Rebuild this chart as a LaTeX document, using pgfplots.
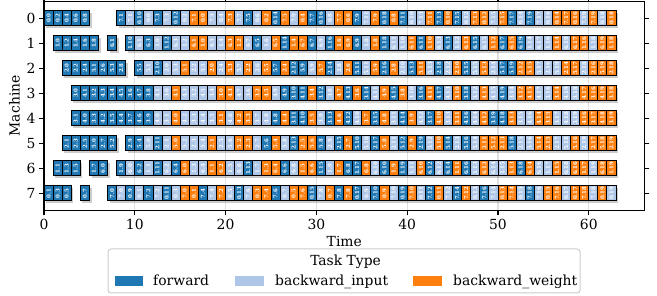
\documentclass[border=0pt]{standalone}
\usepackage{fontspec}
\setmainfont{DejaVu Serif}
\usepackage{pgfplots}
\usepackage{pgfplotstable}
\pgfplotsset{compat=1.18}
\definecolor{cF}{HTML}{1F77B4}
\definecolor{cB}{HTML}{AEC7E8}
\definecolor{cW}{HTML}{FF7F0E}
\newcommand{\fs}{\fontsize{13.9}{16}\selectfont}
\pgfdeclareplotmark{cell}{\pgfpathrectangle{\pgfpoint{-4.54pt}{-7.5pt}}{\pgfpoint{9.08pt}{15pt}}\pgfusepathqfillstroke}
\pgfdeclareplotmark{cellshadow}{\pgfpathrectangle{\pgfpoint{-2.4pt}{-9.6pt}}{\pgfpoint{9.08pt}{15pt}}\pgfusepathqfill}

% forward tasks: x = slot centre, y = machine, l = label
\pgfplotstableread[row sep=\\]{x y l\\
0.5 0 0.0\\ 1.5 0 0.2\\ 2.5 0 0.4\\ 3.5 0 0.6\\ 4.5 0 0.8\\ 8.5 0 7.1\\ 10.5 0 0.10\\ 12.5 0 7.3\\ 14.5 0 0.12\\ 22.5 0 7.5\\ 25.5 0 0.14\\ 29.5 0 7.7\\ 30.5 0 0.16\\ 34.5 0 7.9\\ 37.5 0 0.18\\ 39.5 0 7.11\\ 43.5 0 7.13\\ 45.5 0 7.15\\ 51.5 0 7.17\\ 53.5 0 7.19\\
1.5 1 1.0\\ 2.5 1 1.2\\ 3.5 1 1.4\\ 4.5 1 1.6\\ 5.5 1 1.8\\ 7.5 1 6.1\\ 9.5 1 1.10\\ 11.5 1 6.3\\ 13.5 1 1.12\\ 23.5 1 6.5\\ 26.5 1 1.14\\ 29.5 1 6.7\\ 31.5 1 1.16\\ 34.5 1 6.9\\ 37.5 1 1.18\\ 41.5 1 6.11\\ 44.5 1 6.13\\ 47.5 1 6.15\\ 50.5 1 6.17\\ 52.5 1 6.19\\
2.5 2 2.0\\ 3.5 2 2.2\\ 4.5 2 2.4\\ 5.5 2 5.1\\ 6.5 2 2.6\\ 7.5 2 5.3\\ 8.5 2 2.8\\ 10.5 2 5.5\\ 12.5 2 2.10\\ 25.5 2 5.7\\ 27.5 2 2.12\\ 28.5 2 5.9\\ 31.5 2 2.14\\ 34.5 2 5.11\\ 37.5 2 2.16\\ 40.5 2 5.13\\ 43.5 2 2.18\\ 46.5 2 5.15\\ 50.5 2 5.17\\ 51.5 2 5.19\\
3.5 3 3.0\\ 4.5 3 4.1\\ 5.5 3 3.2\\ 6.5 3 4.3\\ 7.5 3 3.4\\ 8.5 3 4.5\\ 9.5 3 3.6\\ 10.5 3 4.7\\ 11.5 3 3.8\\ 26.5 3 4.9\\ 27.5 3 3.10\\ 28.5 3 4.11\\ 30.5 3 3.12\\ 33.5 3 4.13\\ 35.5 3 3.14\\ 38.5 3 4.15\\ 41.5 3 3.16\\ 43.5 3 4.17\\ 46.5 3 3.18\\ 50.5 3 4.19\\
3.5 4 3.1\\ 4.5 4 4.0\\ 5.5 4 3.3\\ 6.5 4 4.2\\ 7.5 4 3.5\\ 8.5 4 4.4\\ 9.5 4 3.7\\ 10.5 4 4.6\\ 11.5 4 3.9\\ 25.5 4 4.8\\ 27.5 4 3.11\\ 28.5 4 4.10\\ 31.5 4 3.13\\ 33.5 4 4.12\\ 36.5 4 3.15\\ 39.5 4 4.14\\ 42.5 4 3.17\\ 46.5 4 4.16\\ 49.5 4 3.19\\ 50.5 4 4.18\\
2.5 5 2.1\\ 3.5 5 2.3\\ 4.5 5 2.5\\ 5.5 5 5.0\\ 6.5 5 2.7\\ 7.5 5 5.2\\ 9.5 5 2.9\\ 10.5 5 5.4\\ 12.5 5 2.11\\ 24.5 5 5.6\\ 27.5 5 2.13\\ 30.5 5 5.8\\ 32.5 5 2.15\\ 34.5 5 5.10\\ 36.5 5 2.17\\ 39.5 5 5.12\\ 41.5 5 2.19\\ 44.5 5 5.14\\ 46.5 5 5.16\\ 51.5 5 5.18\\
1.5 6 1.1\\ 2.5 6 1.3\\ 3.5 6 1.5\\ 5.5 6 1.7\\ 6.5 6 6.0\\ 8.5 6 1.9\\ 10.5 6 6.2\\ 12.5 6 1.11\\ 14.5 6 6.4\\ 22.5 6 1.13\\ 26.5 6 6.6\\ 30.5 6 1.15\\ 33.5 6 6.8\\ 34.5 6 1.17\\ 37.5 6 6.10\\ 39.5 6 1.19\\ 42.5 6 6.12\\ 44.5 6 6.14\\ 46.5 6 6.16\\ 52.5 6 6.18\\
0.5 7 0.1\\ 1.5 7 0.3\\ 2.5 7 0.5\\ 4.5 7 0.7\\ 7.5 7 7.0\\ 9.5 7 0.9\\ 11.5 7 7.2\\ 13.5 7 0.11\\ 17.5 7 7.4\\ 21.5 7 0.13\\ 25.5 7 7.6\\ 29.5 7 0.15\\ 32.5 7 7.8\\ 34.5 7 0.17\\ 36.5 7 7.10\\ 39.5 7 0.19\\ 42.5 7 7.12\\ 45.5 7 7.14\\ 48.5 7 7.16\\ 53.5 7 7.18\\
}\Ftab

% backward_input tasks
\pgfplotstableread[row sep=\\]{x y l\\
9.5 0 7.1\\ 11.5 0 0.0\\ 13.5 0 7.3\\ 15.5 0 0.2\\ 18.5 0 7.5\\ 19.5 0 0.4\\ 21.5 0 7.7\\ 23.5 0 0.6\\ 27.5 0 7.9\\ 31.5 0 0.8\\ 35.5 0 7.11\\ 40.5 0 0.10\\ 41.5 0 7.13\\ 46.5 0 0.12\\ 49.5 0 7.15\\ 52.5 0 0.14\\ 54.5 0 7.17\\ 55.5 0 0.16\\ 59.5 0 7.19\\ 61.5 0 0.18\\
10.5 1 6.1\\ 12.5 1 1.0\\ 14.5 1 6.3\\ 15.5 1 1.2\\ 18.5 1 6.5\\ 19.5 1 1.4\\ 22.5 1 6.7\\ 24.5 1 1.6\\ 30.5 1 6.9\\ 35.5 1 1.8\\ 38.5 1 6.11\\ 39.5 1 1.10\\ 43.5 1 6.13\\ 45.5 1 1.12\\ 48.5 1 6.15\\ 53.5 1 1.14\\ 54.5 1 6.17\\ 55.5 1 1.16\\ 57.5 1 6.19\\ 60.5 1 1.18\\
11.5 2 5.1\\ 13.5 2 2.0\\ 14.5 2 5.3\\ 16.5 2 2.2\\ 17.5 2 5.5\\ 19.5 2 2.4\\ 21.5 2 5.7\\ 23.5 2 2.6\\ 29.5 2 5.9\\ 32.5 2 2.8\\ 35.5 2 5.11\\ 39.5 2 2.10\\ 42.5 2 5.13\\ 44.5 2 2.12\\ 47.5 2 5.15\\ 49.5 2 2.14\\ 54.5 2 5.17\\ 55.5 2 2.16\\ 56.5 2 5.19\\ 59.5 2 2.18\\
12.5 3 4.1\\ 13.5 3 3.0\\ 15.5 3 4.3\\ 16.5 3 3.2\\ 17.5 3 4.5\\ 18.5 3 3.4\\ 21.5 3 4.7\\ 22.5 3 3.6\\ 25.5 3 4.9\\ 31.5 3 3.8\\ 36.5 3 4.11\\ 40.5 3 3.10\\ 44.5 3 4.13\\ 47.5 3 3.12\\ 49.5 3 4.15\\ 51.5 3 3.14\\ 54.5 3 4.17\\ 55.5 3 3.16\\ 57.5 3 4.19\\ 58.5 3 3.18\\
12.5 4 4.0\\ 13.5 4 3.1\\ 15.5 4 4.2\\ 16.5 4 3.3\\ 17.5 4 4.4\\ 18.5 4 3.5\\ 20.5 4 4.6\\ 23.5 4 3.7\\ 24.5 4 4.8\\ 30.5 4 3.9\\ 34.5 4 4.10\\ 38.5 4 3.11\\ 41.5 4 4.12\\ 44.5 4 3.13\\ 47.5 4 4.14\\ 52.5 4 3.15\\ 53.5 4 4.16\\ 56.5 4 3.17\\ 57.5 4 4.18\\ 58.5 4 3.19\\
11.5 5 5.0\\ 13.5 5 2.1\\ 15.5 5 5.2\\ 16.5 5 2.3\\ 17.5 5 5.4\\ 19.5 5 2.5\\ 20.5 5 5.6\\ 23.5 5 2.7\\ 26.5 5 5.8\\ 31.5 5 2.9\\ 35.5 5 5.10\\ 38.5 5 2.11\\ 42.5 5 5.12\\ 45.5 5 2.13\\ 47.5 5 5.14\\ 52.5 5 2.15\\ 53.5 5 5.16\\ 56.5 5 2.17\\ 57.5 5 5.18\\ 59.5 5 2.19\\
9.5 6 6.0\\ 11.5 6 1.1\\ 13.5 6 6.2\\ 16.5 6 1.3\\ 17.5 6 6.4\\ 20.5 6 1.5\\ 21.5 6 6.6\\ 23.5 6 1.7\\ 27.5 6 6.8\\ 31.5 6 1.9\\ 36.5 6 6.10\\ 40.5 6 1.11\\ 43.5 6 6.12\\ 47.5 6 1.13\\ 49.5 6 6.14\\ 50.5 6 1.15\\ 54.5 6 6.16\\ 55.5 6 1.17\\ 57.5 6 6.18\\ 60.5 6 1.19\\
8.5 7 7.0\\ 10.5 7 0.1\\ 12.5 7 7.2\\ 14.5 7 0.3\\ 18.5 7 7.4\\ 20.5 7 0.5\\ 22.5 7 7.6\\ 26.5 7 0.7\\ 30.5 7 7.8\\ 35.5 7 0.9\\ 38.5 7 7.10\\ 41.5 7 0.11\\ 44.5 7 7.12\\ 47.5 7 0.13\\ 49.5 7 7.14\\ 52.5 7 0.15\\ 54.5 7 7.16\\ 57.5 7 0.17\\ 60.5 7 7.18\\ 62.5 7 0.19\\
}\Btab

% backward_weight tasks
\pgfplotstableread[row sep=\\]{x y l\\
16.5 0 7.1\\ 17.5 0 0.0\\ 20.5 0 7.3\\ 24.5 0 0.2\\ 26.5 0 7.5\\ 28.5 0 0.4\\ 32.5 0 7.7\\ 33.5 0 0.6\\ 36.5 0 7.9\\ 38.5 0 0.8\\ 42.5 0 7.11\\ 44.5 0 0.10\\ 47.5 0 7.13\\ 48.5 0 0.12\\ 50.5 0 7.15\\ 56.5 0 0.14\\ 57.5 0 7.17\\ 58.5 0 0.16\\ 60.5 0 7.19\\ 62.5 0 0.18\\
16.5 1 6.1\\ 17.5 1 1.0\\ 20.5 1 6.3\\ 21.5 1 1.2\\ 25.5 1 6.5\\ 27.5 1 1.4\\ 28.5 1 6.7\\ 32.5 1 1.6\\ 33.5 1 6.9\\ 36.5 1 1.8\\ 40.5 1 6.11\\ 42.5 1 1.10\\ 46.5 1 6.13\\ 49.5 1 1.12\\ 51.5 1 6.15\\ 56.5 1 1.14\\ 58.5 1 6.17\\ 59.5 1 1.16\\ 61.5 1 6.19\\ 62.5 1 1.18\\
15.5 2 5.1\\ 18.5 2 2.0\\ 20.5 2 5.3\\ 22.5 2 2.2\\ 24.5 2 5.5\\ 26.5 2 2.4\\ 30.5 2 5.7\\ 33.5 2 2.6\\ 36.5 2 5.9\\ 38.5 2 2.8\\ 41.5 2 5.11\\ 45.5 2 2.10\\ 48.5 2 5.13\\ 52.5 2 2.12\\ 53.5 2 5.15\\ 57.5 2 2.14\\ 58.5 2 5.17\\ 60.5 2 2.16\\ 61.5 2 5.19\\ 62.5 2 2.18\\
14.5 3 4.1\\ 19.5 3 3.0\\ 20.5 3 4.3\\ 23.5 3 3.2\\ 24.5 3 4.5\\ 29.5 3 3.4\\ 32.5 3 4.7\\ 34.5 3 3.6\\ 37.5 3 4.9\\ 39.5 3 3.8\\ 42.5 3 4.11\\ 45.5 3 3.10\\ 48.5 3 4.13\\ 52.5 3 3.12\\ 53.5 3 4.15\\ 56.5 3 3.14\\ 59.5 3 4.17\\ 60.5 3 3.16\\ 61.5 3 4.19\\ 62.5 3 3.18\\
14.5 4 4.0\\ 19.5 4 3.1\\ 21.5 4 4.2\\ 22.5 4 3.3\\ 26.5 4 4.4\\ 29.5 4 3.5\\ 32.5 4 4.6\\ 35.5 4 3.7\\ 37.5 4 4.8\\ 40.5 4 3.9\\ 43.5 4 4.10\\ 45.5 4 3.11\\ 48.5 4 4.12\\ 51.5 4 3.13\\ 54.5 4 4.14\\ 55.5 4 3.15\\ 59.5 4 4.16\\ 60.5 4 3.17\\ 61.5 4 4.18\\ 62.5 4 3.19\\
14.5 5 5.0\\ 18.5 5 2.1\\ 21.5 5 5.2\\ 22.5 5 2.3\\ 25.5 5 5.4\\ 28.5 5 2.5\\ 29.5 5 5.6\\ 33.5 5 2.7\\ 37.5 5 5.8\\ 40.5 5 2.9\\ 43.5 5 5.10\\ 48.5 5 2.11\\ 49.5 5 5.12\\ 50.5 5 2.13\\ 54.5 5 5.14\\ 55.5 5 2.15\\ 58.5 5 5.16\\ 60.5 5 2.17\\ 61.5 5 5.18\\ 62.5 5 2.19\\
15.5 6 6.0\\ 18.5 6 1.1\\ 19.5 6 6.2\\ 24.5 6 1.3\\ 25.5 6 6.4\\ 28.5 6 1.5\\ 29.5 6 6.6\\ 32.5 6 1.7\\ 35.5 6 6.8\\ 38.5 6 1.9\\ 41.5 6 6.10\\ 45.5 6 1.11\\ 48.5 6 6.12\\ 51.5 6 1.13\\ 53.5 6 6.14\\ 56.5 6 1.15\\ 58.5 6 6.16\\ 59.5 6 1.17\\ 61.5 6 6.18\\ 62.5 6 1.19\\
15.5 7 7.0\\ 16.5 7 0.1\\ 19.5 7 7.2\\ 23.5 7 0.3\\ 24.5 7 7.4\\ 27.5 7 0.5\\ 28.5 7 7.6\\ 31.5 7 0.7\\ 33.5 7 7.8\\ 37.5 7 0.9\\ 40.5 7 7.10\\ 43.5 7 0.11\\ 46.5 7 7.12\\ 50.5 7 0.13\\ 51.5 7 7.14\\ 55.5 7 0.15\\ 56.5 7 7.16\\ 58.5 7 0.17\\ 59.5 7 7.18\\ 61.5 7 0.19\\
}\Wtab

\pgfplotsset{
  cellstyle/.style={only marks, mark=cell, mark options={fill=#1, draw=black, line width=0.9pt},
    nodes near coords, point meta=explicit symbolic,
    every node near coord/.append style={rotate=90, anchor=center, text=white, inner sep=0pt,
      font=\fontsize{5.4}{6}\selectfont\bfseries}},
  shadowstyle/.style={only marks, mark=cellshadow, mark options={fill=black, fill opacity=0.2, draw=none}},
}

\begin{document}
\begin{tikzpicture}
\useasboundingbox (-44pt,-85.6pt) rectangle (613pt,210.4pt);
\begin{axis}[
  at={(0pt,0pt)}, anchor=south west,
  scale only axis, width=600.6pt, height=209.2pt,
  xmin=0, xmax=66.15, ymin=-0.68, ymax=7.68, y dir=reverse,
  xtick={0,10,20,30,40,50,60}, ytick={0,1,2,3,4,5,6,7},
  tick align=outside, major tick length=4.9pt,
  tick style={black, line width=1.1pt},
  axis line style={line width=1.1pt},
  xmajorgrids, x grid style={black!12, line width=1.1pt},
  xlabel={Time}, ylabel={Machine},
  label style={font=\fs}, tick label style={font=\fs},
  /pgf/number format/assume math mode=true,
]
\addplot[shadowstyle] table[x=x, y=y] {\Ftab};
\addplot[shadowstyle] table[x=x, y=y] {\Btab};
\addplot[shadowstyle] table[x=x, y=y] {\Wtab};
\addplot[cellstyle=cF] table[x=x, y=y, meta=l] {\Ftab};
\addplot[cellstyle=cB] table[x=x, y=y, meta=l] {\Btab};
\addplot[cellstyle=cW] table[x=x, y=y, meta=l] {\Wtab};
\end{axis}
\draw[rounded corners=3pt, draw=black!20, fill=white, line width=1pt] (64pt,-38.6pt) rectangle (536pt,-82.6pt);
\node[font=\fs, anchor=base, inner sep=0pt] at (301.6pt,-55.2pt) {Task Type};
\fill[cF] (71pt,-65.6pt) rectangle (99pt,-75.6pt);
\node[font=\fs, anchor=base west, inner sep=0pt] at (109pt,-75.6pt) {forward};
\fill[cB] (191pt,-65.6pt) rectangle (220pt,-75.6pt);
\node[font=\fs, anchor=base west, inner sep=0pt] at (231pt,-75.6pt) {backward\_input};
\fill[cW] (369pt,-65.6pt) rectangle (398pt,-75.6pt);
\node[font=\fs, anchor=base west, inner sep=0pt] at (409pt,-75.6pt) {backward\_weight};
\end{tikzpicture}
\end{document}
